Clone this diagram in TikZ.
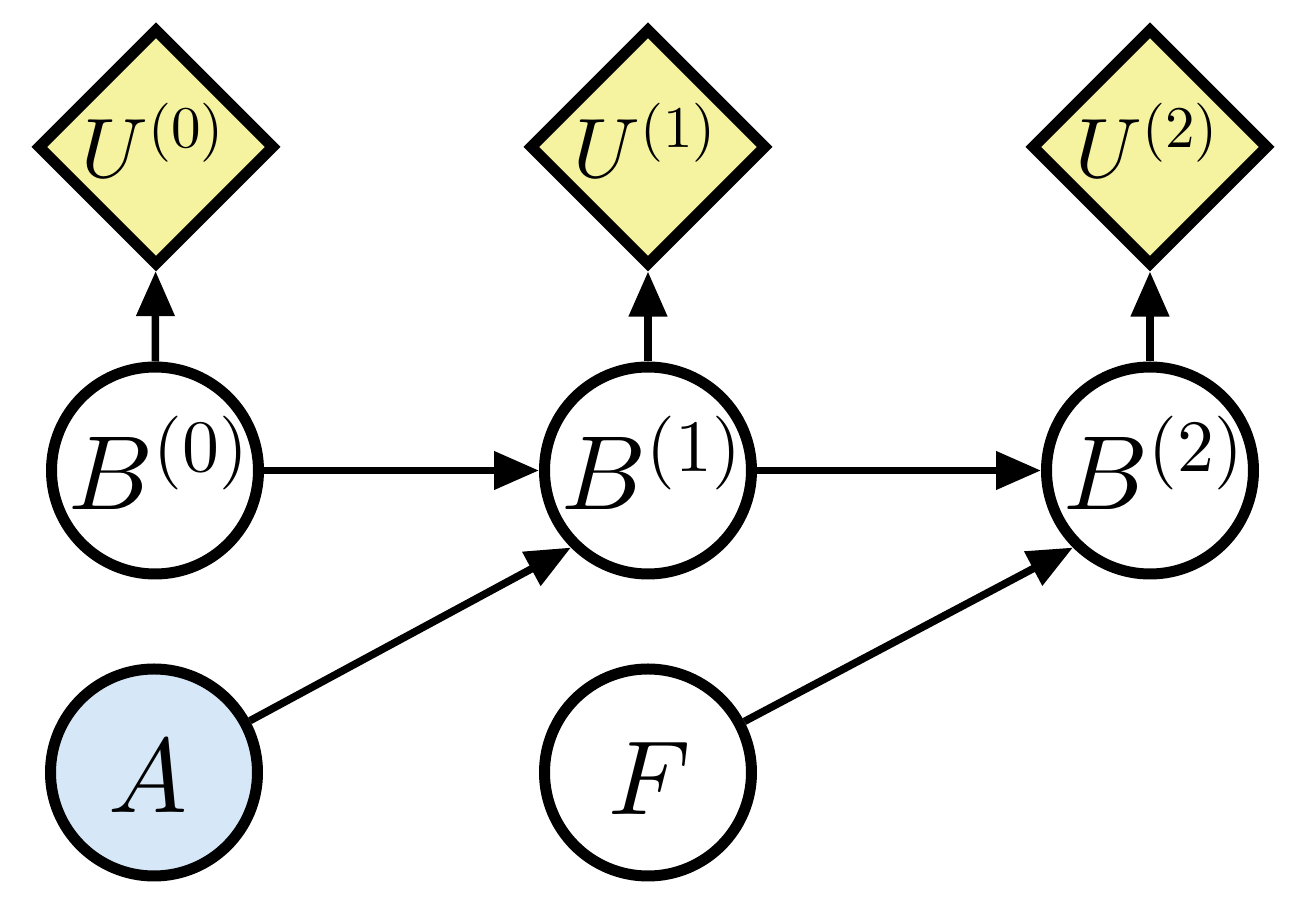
\documentclass[tikz,border=0pt]{standalone}
\usepackage{graphicx}
\usetikzlibrary{arrows.meta,shapes.geometric}
\definecolor{uyellow}{RGB}{245,243,160}
\definecolor{ablue}{RGB}{214,232,247}
% #1 scale, #2 vertical offset, #3 horizontal offset, #4 math
\newcommand{\mylab}[4]{\makebox[0pt]{\kern#3\kern#3\smash{\raisebox{#2}{\scalebox{#1}{$#4$}}}}}
\newcommand{\mysup}[1]{^{\scalebox{0.7}{$(#1)$}}}
\begin{document}
\begin{tikzpicture}[x=1cm,y=1cm,
  var/.style={circle,draw,line width=0.11cm,minimum size=2.07cm,inner sep=0pt,fill=white},
  util/.style={diamond,draw,line width=0.11cm,minimum size=2.38cm,inner sep=0pt,fill=uyellow},
  edge/.style={-{Triangle[length=0.45cm,width=0.37cm]},line width=0.075cm}]
\useasboundingbox (0,0) rectangle (12.92,9.09);
\node[util] (U0) at (1.56,7.62) {\mylab{2.4}{-0.31cm}{-0.01cm}{U\mysup{0}}};
\node[util] (U1) at (6.48,7.62) {\mylab{2.4}{-0.31cm}{-0.01cm}{U\mysup{1}}};
\node[util] (U2) at (11.50,7.62) {\mylab{2.4}{-0.31cm}{-0.01cm}{U\mysup{2}}};
\node[var] (B0) at (1.55,4.385) {\mylab{3}{-0.39cm}{0.06cm}{B\mysup{0}}};
\node[var] (B1) at (6.48,4.385) {\mylab{3}{-0.39cm}{0.06cm}{B\mysup{1}}};
\node[var] (B2) at (11.50,4.385) {\mylab{3}{-0.39cm}{0.06cm}{B\mysup{2}}};
\node[var,fill=ablue] (A) at (1.54,1.365) {\mylab{3}{-0.40cm}{-0.06cm}{A}};
\node[var] (F) at (6.48,1.365) {\mylab{3}{-0.42cm}{0.02cm}{F}};
\draw[edge] (B0) -- (U0);
\draw[edge] (B1) -- (U1);
\draw[edge] (B2) -- (U2);
\draw[edge] (B0) -- (B1);
\draw[edge] (B1) -- (B2);
\draw[edge] (A) -- (B1.south west);
\draw[edge] (F) -- (B2.south west);
\end{tikzpicture}
\end{document}
